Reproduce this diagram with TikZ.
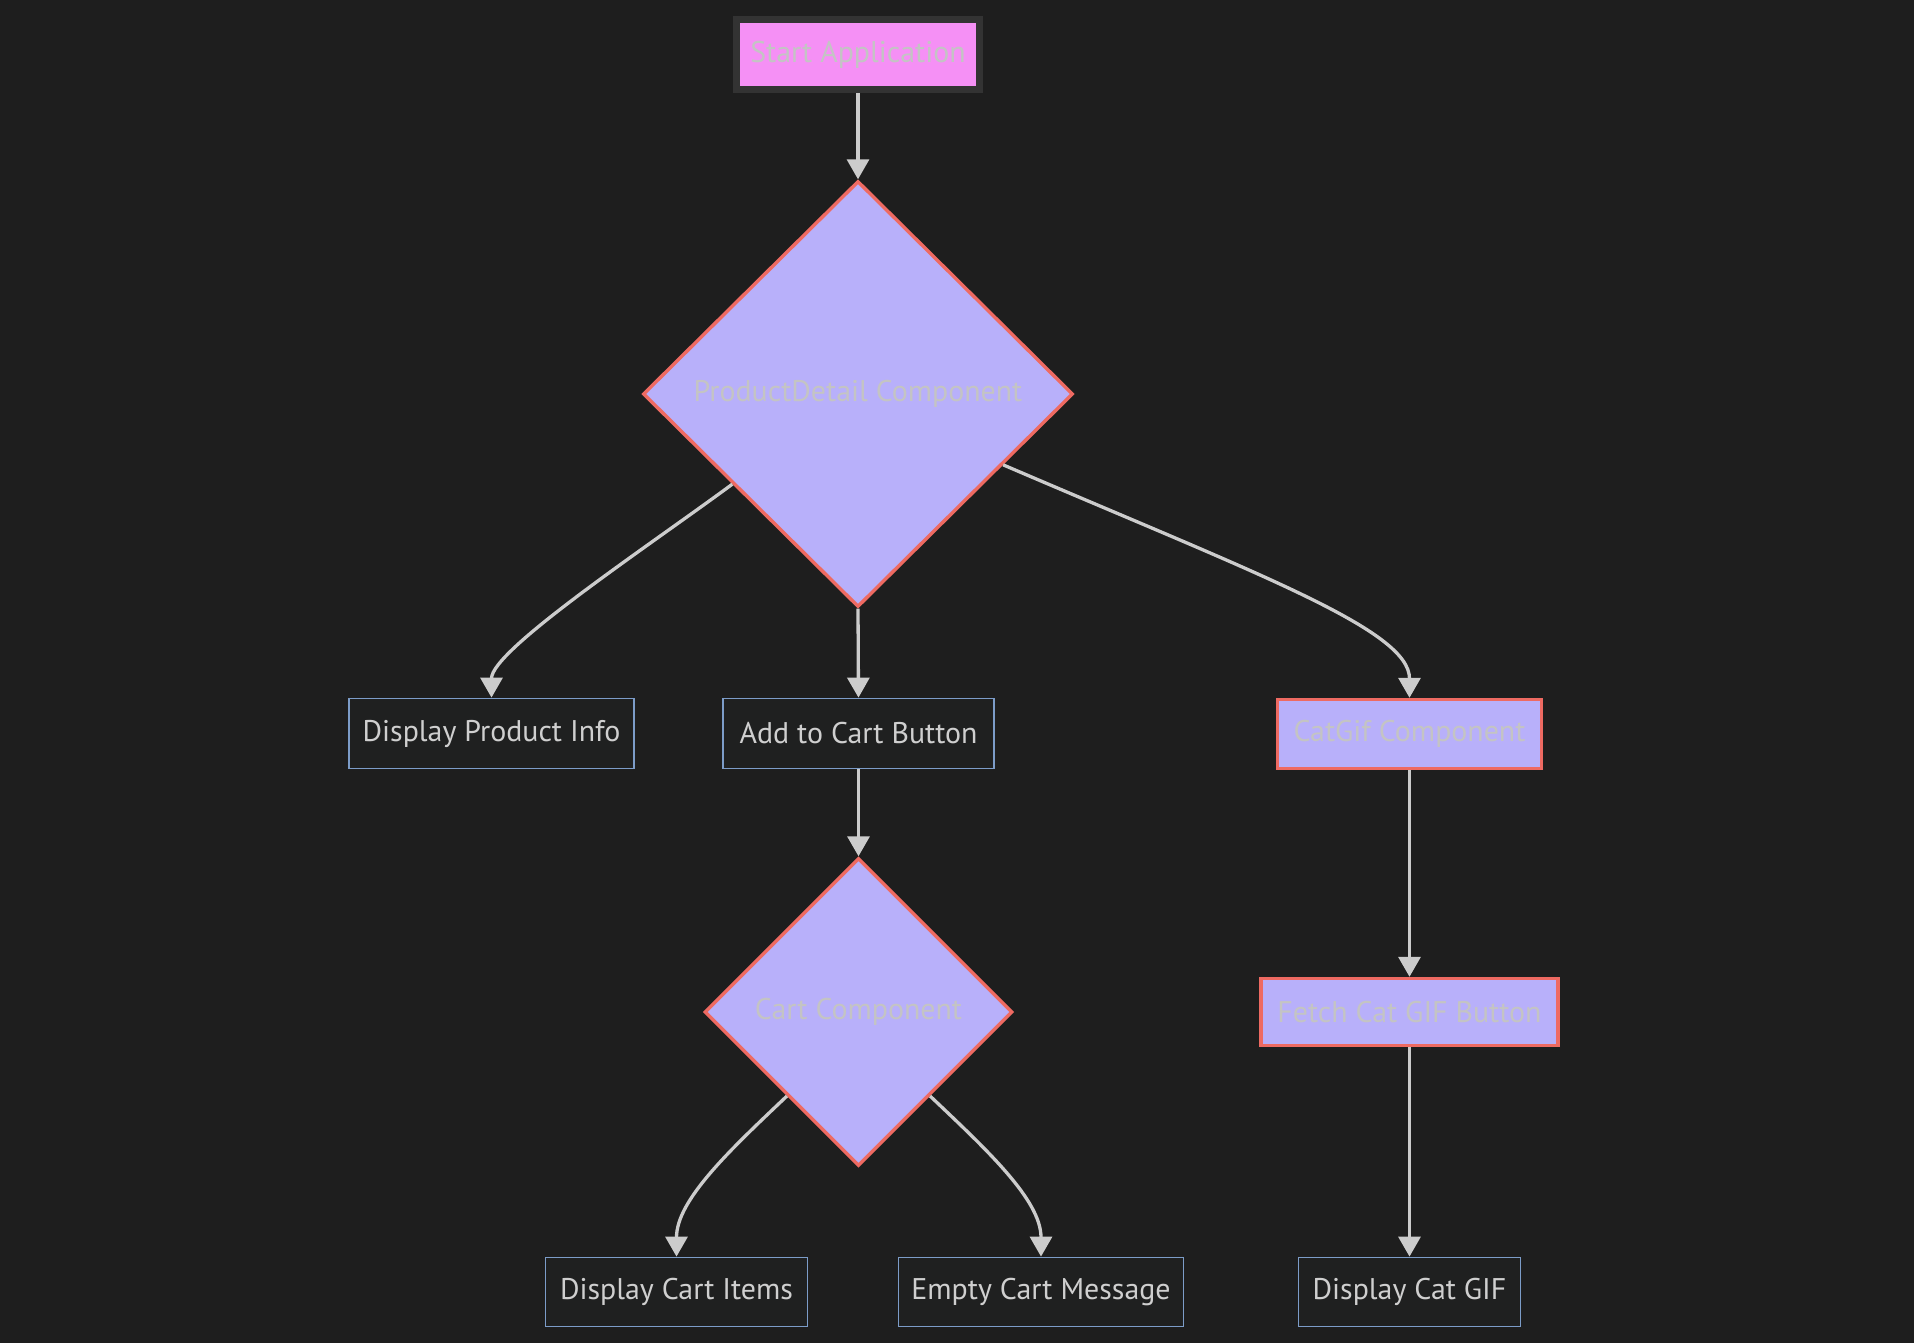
\documentclass[tikz,border=0pt]{standalone}
\usepackage{fontspec}
\setmainfont{PT Sans}
\usetikzlibrary{shapes.geometric,arrows.meta,calc}
\definecolor{bg}{HTML}{1E1E1E}
\definecolor{nodefill}{HTML}{1F2020}
\definecolor{nodeline}{HTML}{7C9CC8}
\definecolor{txt}{HTML}{CFCFCF}
\definecolor{comptxt}{HTML}{C4C4C4}
\definecolor{pinkfill}{HTML}{F590F5}
\definecolor{darkline}{HTML}{333333}
\definecolor{purplefill}{HTML}{B8B0FA}
\definecolor{redline}{HTML}{EE6A62}
\definecolor{edgecol}{HTML}{CCCCCC}
\tikzset{
  lbl/.style={font=\fontsize{30}{36}\selectfont, text=txt, inner sep=0pt},
  plainbox/.style={lbl, rectangle, draw=nodeline, fill=nodefill, line width=1.8bp},
  compbox/.style={lbl, text=comptxt, rectangle, draw=redline, fill=purplefill, line width=3.4bp},
  startbox/.style={lbl, text=comptxt, rectangle, draw=darkline, fill=pinkfill, line width=7bp},
  decision/.style={lbl, text=comptxt, diamond, draw=redline, fill=purplefill, line width=3.4bp, aspect=1},
  flow/.style={draw=edgecol, line width=3.3bp, -{Triangle[length=20bp,width=22bp]}},
}
\begin{document}
\begin{tikzpicture}[x=1bp,y=-1bp]
\fill[bg] (0,0) rectangle (1914,1343);
\useasboundingbox (0,0) rectangle (1914,1343);

\node[startbox, minimum width=243bp, minimum height=70bp] (start) at (858,54.5) {Start Application};
\node[decision, minimum width=430bp, minimum height=426bp] (pd) at (858,394) {ProductDetail Component};
\node[plainbox, minimum width=285bp, minimum height=70bp] (info) at (491.5,733.5) {Display Product Info};
\node[plainbox, minimum width=271bp, minimum height=70bp] (add) at (858.5,733.5) {Add to Cart Button};
\node[compbox, minimum width=264bp, minimum height=69bp] (catgif) at (1409.5,734) {CatGif Component};
\node[decision, minimum width=308bp, minimum height=308bp] (cart) at (858.5,1012) {Cart Component};
\node[compbox, minimum width=297bp, minimum height=67bp] (fetch) at (1409.5,1012) {Fetch Cat GIF Button};
\node[plainbox, minimum width=262bp, minimum height=69bp] (items) at (676.5,1292) {Display Cart Items};
\node[plainbox, minimum width=285bp, minimum height=69bp] (empty) at (1041,1292) {Empty Cart Message};
\node[plainbox, minimum width=222bp, minimum height=69bp] (catshow) at (1409.5,1292) {Display Cat GIF};

\coordinate (pdl) at ($(pd.west)!0.42!(pd.south)$);
\coordinate (pdr) at ($(pd.east)!0.33!(pd.south)$);
\coordinate (cl) at ($(cart.west)!0.54!(cart.south)$);
\coordinate (cr) at ($(cart.east)!0.54!(cart.south)$);

\draw[flow] (start.south) -- (pd.north);
\draw[flow] (pdl) .. controls (650,545) and (491.5,650) .. (info.north);
\draw[flow] (pd.south) -- (add.north);
\draw[flow] (pdr) .. controls (1260,575) and (1409.5,630) .. (catgif.north);
\draw[flow] (add.south) -- (cart.north);
\draw[flow] (cl) .. controls (730,1150) and (676.5,1200) .. (items.north);
\draw[flow] (cr) .. controls (987,1150) and (1041,1200) .. (empty.north);
\draw[flow] (catgif.south) -- (fetch.north);
\draw[flow] (fetch.south) -- (catshow.north);
\end{tikzpicture}
\end{document}
